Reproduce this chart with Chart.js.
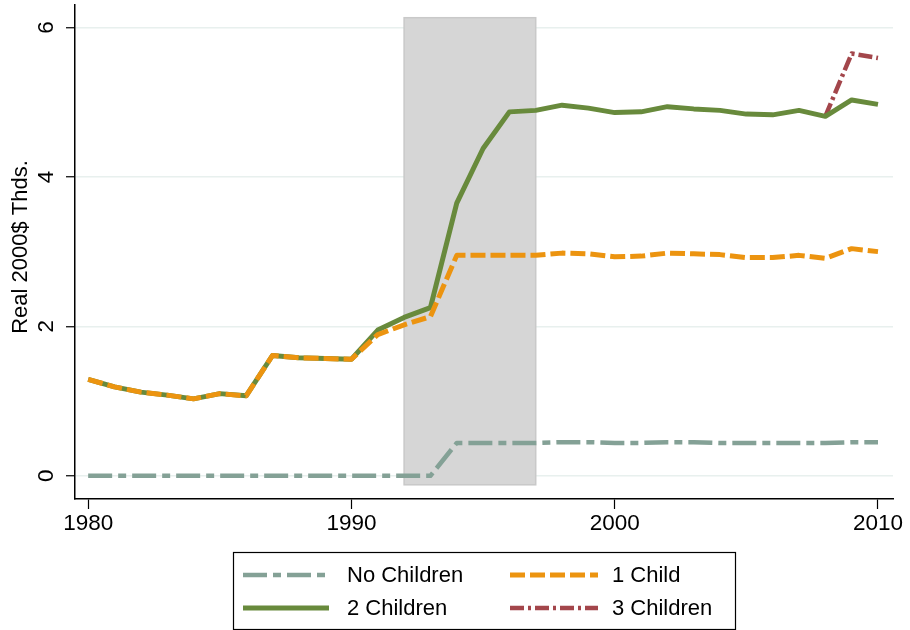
<!DOCTYPE html>
<html>
<head>
<meta charset="utf-8">
<script src="https://cdn.jsdelivr.net/npm/chart.js@4/dist/chart.umd.min.js"></script>
<style>
  html, body { margin: 0; padding: 0; background: #fff; }
  #wrap { width: 910px; height: 630px; }
</style>
</head>
<body>
<div id="wrap"><canvas id="chart" width="910" height="630"></canvas></div>
<script>
  var years = [1980, 1981, 1982, 1983, 1984, 1985, 1986, 1987, 1988, 1989, 1990,
    1991, 1992, 1993, 1994, 1995, 1996, 1997, 1998, 1999, 2000,
    2001, 2002, 2003, 2004, 2005, 2006, 2007, 2008, 2009, 2010];
  var noChildren = [0, 0, 0, 0, 0, 0, 0, 0, 0, 0, 0,
    0, 0, 0, 0.44, 0.44, 0.44, 0.44, 0.45, 0.45, 0.44,
    0.44, 0.45, 0.45, 0.44, 0.44, 0.44, 0.44, 0.44, 0.45, 0.45];
  var oneChild = [1.29, 1.19, 1.12, 1.08, 1.03, 1.10, 1.07, 1.61, 1.58, 1.57, 1.56,
    1.89, 2.02, 2.13, 2.95, 2.95, 2.95, 2.95, 2.98, 2.97, 2.93,
    2.94, 2.98, 2.97, 2.96, 2.92, 2.92, 2.95, 2.91, 3.04, 3.00];
  var twoChildren = [1.29, 1.19, 1.12, 1.08, 1.03, 1.10, 1.07, 1.61, 1.58, 1.57, 1.56,
    1.95, 2.12, 2.25, 3.65, 4.38, 4.87, 4.89, 4.96, 4.92, 4.86,
    4.87, 4.94, 4.91, 4.89, 4.84, 4.83, 4.89, 4.81, 5.03, 4.97];
  var threeChildren = [null, null, null, null, null, null, null, null, null, null, null,
    null, null, null, null, null, null, null, null, null, null,
    null, null, null, null, null, null, null, 4.81, 5.65, 5.59];
  var xTicks = [1980, 1990, 2000, 2010];
  var yTicks = [0, 2, 4, 6];
  // shaded period and its vertical extent
  var bandYears = [1992, 1997];
  var bandRange = [-0.12, 6.13];

  var FONT = "'Liberation Sans', Arial, Helvetica, sans-serif";

  function series(vals) {
    return years.map(function (y, i) { return { x: y, y: vals[i] }; });
  }

  var shadePlugin = {
    id: "shade",
    beforeDatasetsDraw: function (chart) {
      var c = chart.ctx, xs = chart.scales.x, ys = chart.scales.y;
      var x0 = xs.getPixelForValue(bandYears[0]), x1 = xs.getPixelForValue(bandYears[1]);
      var y0 = ys.getPixelForValue(bandRange[1]), y1 = ys.getPixelForValue(bandRange[0]);
      c.save();
      c.fillStyle = "#d6d6d6";
      c.strokeStyle = "#c9c9c9";
      c.lineWidth = 1.5;
      c.fillRect(x0, y0, x1 - x0, y1 - y0);
      c.strokeRect(x0, y0, x1 - x0, y1 - y0);
      c.restore();
    }
  };

  // boxed two-column legend under the plot, Stata style
  var legendPlugin = {
    id: "boxLegend",
    afterDraw: function (chart) {
      var c = chart.ctx;
      var box = { x: 233.5, y: 552.5, w: 502, h: 77 };
      var cols = [243, 510], rows = [575, 608], sampleW = [86, 88], textX = [347, 612];
      c.save();
      c.strokeStyle = "#000";
      c.lineWidth = 1.2;
      c.strokeRect(box.x, box.y, box.w, box.h);
      chart.data.datasets.forEach(function (ds, i) {
        var col = i % 2, row = Math.floor(i / 2);
        var y = rows[row];
        c.beginPath();
        c.setLineDash(ds.borderDash || []);
        c.lineWidth = ds.borderWidth;
        c.strokeStyle = ds.borderColor;
        c.lineCap = "butt";
        c.moveTo(cols[col], y);
        c.lineTo(cols[col] + sampleW[col], y);
        c.stroke();
        c.setLineDash([]);
        c.fillStyle = "#000";
        c.font = "22px " + FONT;
        c.textBaseline = "middle";
        c.textAlign = "left";
        c.fillText(ds.label, textX[col], y + 1);
      });
      c.restore();
    }
  };

  var yTitlePlugin = {
    id: "yTitle",
    afterDraw: function (chart) {
      var c = chart.ctx;
      c.save();
      c.translate(21, 247);
      c.rotate(-Math.PI / 2);
      c.font = "22px " + FONT;
      c.fillStyle = "#000";
      c.textAlign = "center";
      c.textBaseline = "middle";
      c.fillText("Real 2000$ Thds.", 0, 0);
      c.restore();
    }
  };

  new Chart(document.getElementById("chart"), {
    type: "line",
    data: {
      datasets: [
        {
          label: "No Children",
          data: series(noChildren),
          borderColor: "#84a196",
          borderWidth: 4.5,
          borderDash: [24, 6, 8, 6],
        },
        {
          label: "1 Child",
          data: series(oneChild),
          borderColor: "#ec9410",
          borderWidth: 5,
          borderDash: [15, 5],
        },
        {
          label: "2 Children",
          data: series(twoChildren),
          borderColor: "#688a3c",
          borderWidth: 5,
        },
        {
          label: "3 Children",
          data: series(threeChildren),
          borderColor: "#a3464b",
          borderWidth: 4.5,
          borderDash: [14, 4, 3, 4],
        },
      ],
    },
    options: {
      responsive: false,
      animation: false,
      events: [],
      layout: { padding: { top: 5, right: 17, bottom: 91, left: 0 } },
      elements: {
        point: { radius: 0 },
        line: { tension: 0, fill: false, borderCapStyle: "butt", borderJoinStyle: "round" },
      },
      scales: {
        x: {
          type: "linear",
          min: 1979.5,
          max: 2010.57,
          afterBuildTicks: function (s) { s.ticks = xTicks.map(function (v) { return { value: v }; }); },
          afterFit: function (s) { s.height = 40; },
          grid: { drawOnChartArea: false, tickColor: "#000", tickLength: 10, tickWidth: 1.2 },
          border: { color: "#000", width: 1.5 },
          ticks: {
            color: "#000",
            font: { family: FONT, size: 22.5 },
            padding: 1,
            maxRotation: 0,
            callback: function (v) { return String(v); },
          },
        },
        y: {
          min: -0.31,
          max: 6.3,
          afterBuildTicks: function (s) { s.ticks = yTicks.map(function (v) { return { value: v }; }); },
          afterFit: function (s) { s.width = 75; s.paddingTop = 0; s.paddingBottom = 0; },
          grid: { color: "#e8f0ee", lineWidth: 1.5, tickColor: "#000", tickLength: 9, tickWidth: 1.2 },
          border: { color: "#000", width: 1.5 },
          ticks: {
            color: "#000",
            font: { family: FONT, size: 22.5 },
            minRotation: 90,
            maxRotation: 90,
            crossAlign: "center",
            padding: 13,
          },
        },
      },
      plugins: {
        legend: { display: false },
        tooltip: { enabled: false },
      },
    },
    plugins: [shadePlugin, legendPlugin, yTitlePlugin],
  });
</script>
</body>
</html>
